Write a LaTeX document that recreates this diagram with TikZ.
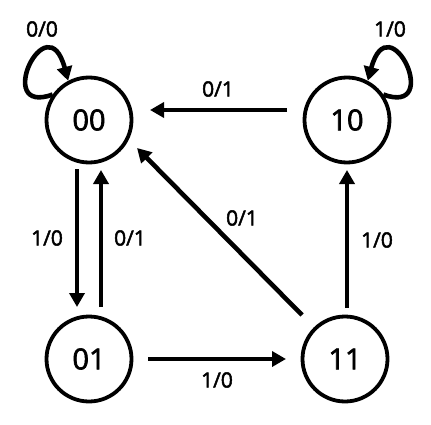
\documentclass[tikz,border=0pt]{standalone}
\usepackage{fontspec}
\setmainfont{Open Sans}[FakeBold=2.2]
\usetikzlibrary{arrows.meta,calc}
\begin{document}
\begin{tikzpicture}[x=1pt,y=1pt,
  state/.style={circle,draw,line width=3.8pt,minimum size=85pt,inner sep=0pt,font=\fontsize{29}{29}\selectfont},
  arr/.style={line width=4.6pt,-{Triangle[length=14pt,width=15pt]}},
  lbl/.style={font=\fontsize{21}{21}\selectfont,inner sep=0pt}]
\useasboundingbox (0,0) rectangle (431,424);
\node[state] (a00) at (89,304) {00};
\node[state] (a10) at (347,304) {10};
\node[state] (a01) at (89,65) {01};
\node[state] (a11) at (345,65) {11};
% vertical arrows
\draw[arr] ($(a00)+(-12,-49)$) -- ($(a01)+(-12,52)$);
\draw[arr] ($(a01)+(12,52)$) -- ($(a00)+(12,-50)$);
\draw[arr] ($(a11)+(2,51)$) -- ($(a10)+(0,-50)$);
% horizontal arrows
\draw[arr] ($(a01)+(59,0)$) -- ($(a11)+(-59,0)$);
\draw[arr] ($(a10)+(-60,10)$) -- ($(a00)+(61,10)$);
% diagonal
\draw[arr] ($(a11)+(-43,44)$) -- ($(a00)+(48,-28)$);
% self loops
\draw[arr] (a00.145) .. controls +(200:64) and +(105:82) .. (a00.118);
\draw[arr] (a10.35) .. controls +(-20:64) and +(75:82) .. (a10.62);
% labels
\node[lbl] (l1) at (42,395) {0/0};
\node[lbl] (l2) at (390,395) {1/0};
\node[lbl] (l3) at (218,335) {0/1};
\node[lbl] (l4) at (242,206) {0/1};
\node[lbl] (l5) at (47,186) {1/0};
\node[lbl] (l6) at (130,186) {0/1};
\node[lbl] (l7) at (377,184) {1/0};
\node[lbl] (l8) at (217,44) {1/0};
\end{tikzpicture}
\end{document}
